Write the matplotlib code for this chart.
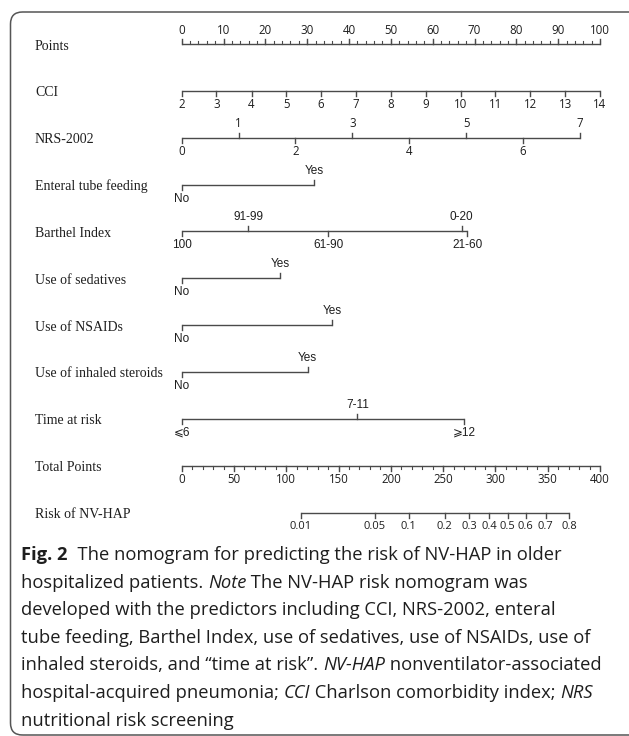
import matplotlib
matplotlib.use('Agg')
import matplotlib.pyplot as plt
from matplotlib.patches import FancyBboxPatch
from matplotlib.transforms import IdentityTransform

# ---- data (positions in "points", 0-100) ----
row_names = ["Points", "CCI", "NRS-2002", "Enteral tube feeding", "Barthel Index",
             "Use of sedatives", "Use of NSAIDs", "Use of inhaled steroids",
             "Time at risk", "Total Points", "Risk of NV-HAP"]

points_labels = [0, 10, 20, 30, 40, 50, 60, 70, 80, 90, 100]
points_minor = list(range(0, 101, 2))

cci_labels = ["2", "3", "4", "5", "6", "7", "8", "9", "10", "11", "12", "13", "14"]
cci_points = [0, 8.3, 16.7, 25, 33.3, 41.7, 50, 58.3, 66.7, 75, 83.3, 91.7, 100]

nrs_labels = ["0", "1", "2", "3", "4", "5", "6", "7"]
nrs_points = [0, 13.6, 27.2, 40.8, 54.4, 68.0, 81.6, 95.2]
nrs_side = ["down", "up", "down", "up", "down", "up", "down", "up"]

yes_no = ["No", "Yes"]
enteral_points = [0, 31.6]
sedatives_points = [0, 23.5]
nsaids_points = [0, 35.9]
steroids_points = [0, 30.1]

barthel_labels = ["100", "91-99", "61-90", "0-20", "21-60"]
barthel_points = [0, 15.9, 35.0, 66.9, 68.3]
barthel_side = ["down", "up", "down", "up", "down"]

time_labels = ["\u2a7d6", "7-11", "\u2a7e12"]
time_points = [0, 42.0, 67.6]
time_side = ["down", "up", "down"]

total_labels = [0, 50, 100, 150, 200, 250, 300, 350, 400]
total_minor = list(range(0, 401, 10))

risk_labels = ["0.01", "0.05", "0.1", "0.2", "0.3", "0.4", "0.5", "0.6", "0.7", "0.8"]
risk_total = [114, 184.8, 217, 251.5, 274.7, 293.8, 311.7, 328.9, 348, 370.6]

# ---- layout ----
W, H, DPI = 629, 736, 100
X0_PX, X100_PX = 181.7, 600.0      # pixel position of 0 and 100 points
ROW0_PX, ROW_PX = 44.0, 46.85      # first axis line, row spacing
PXX = 100 / (X100_PX - X0_PX)      # data units per pixel (x)
PXY = 1 / ROW_PX                   # data units per pixel (y)

LINE_C = '#4a4a4a'
TXT_C = '#1e1e1e'
SANS = ['Liberation Sans', 'DejaVu Sans']
NUMF = ['Open Sans', 'DejaVu Sans']

fig = plt.figure(figsize=(W / DPI, H / DPI), dpi=DPI)
ax = fig.add_axes([0, 0, 1, 1])
ax.set_xlim(-X0_PX * PXX, (W - X0_PX) * PXX)
ax.set_ylim((H - ROW0_PX) * PXY, -ROW0_PX * PXY)
ax.axis('off')


def draw_scale(row, xs, labels, sides, font=SANS, size=8.5, minor=None):
    ax.plot([min(xs), max(xs)], [row, row], color=LINE_C, lw=1.0, solid_capstyle='butt')
    if minor is not None:
        for m in minor:
            ax.plot([m, m], [row, row + (3 * PXY if sides[0] == 'down' else -3 * PXY)],
                    color=LINE_C, lw=0.8)
    for x, lab, side in zip(xs, labels, sides):
        sgn = 1 if side == 'down' else -1
        ax.plot([x, x], [row, row + sgn * 5 * PXY], color=LINE_C, lw=1.0)
        ax.text(x, row + sgn * 14 * PXY, lab, ha='center', va='center',
                fontsize=size, family=font, color=TXT_C)


# row titles
for i, name in enumerate(row_names):
    ax.text((35 - X0_PX) * PXX, i + 2 * PXY, name, ha='left', va='center',
            fontsize=10, family=['Liberation Serif'], color=TXT_C)

draw_scale(0, points_labels, [str(v) for v in points_labels], ['up'] * 11,
           font=NUMF, size=8.3, minor=points_minor)
draw_scale(1, cci_points, cci_labels, ['down'] * 13, font=NUMF, size=8.3)
draw_scale(2, nrs_points, nrs_labels, nrs_side, font=NUMF, size=8.3)
draw_scale(3, enteral_points, yes_no, ['down', 'up'])
draw_scale(4, barthel_points, barthel_labels, barthel_side)
draw_scale(5, sedatives_points, yes_no, ['down', 'up'])
draw_scale(6, nsaids_points, yes_no, ['down', 'up'])
draw_scale(7, steroids_points, yes_no, ['down', 'up'])
draw_scale(8, time_points, time_labels, time_side)
draw_scale(9, [v / 4 for v in total_labels], [str(v) for v in total_labels],
           ['down'] * 9, font=NUMF, size=8.3, minor=[v / 4 for v in total_minor])
draw_scale(10, [v / 4 for v in risk_total], risk_labels, ['down'] * 10,
           font=NUMF, size=8.0)

# ---- caption ----
caption = [
    [("Fig. 2", 'bold'), ("  The nomogram for predicting the risk of NV-HAP in older", 'normal')],
    [("hospitalized patients. ", 'normal'), ("Note", 'italic'),
     (" The NV-HAP risk nomogram was", 'normal')],
    [("developed with the predictors including CCI, NRS-2002, enteral", 'normal')],
    [("tube feeding, Barthel Index, use of sedatives, use of NSAIDs, use of", 'normal')],
    [("inhaled steroids, and \u201ctime at risk\u201d. ", 'normal'), ("NV-HAP", 'italic'),
     (" nonventilator-associated", 'normal')],
    [("hospital-acquired pneumonia; ", 'normal'), ("CCI", 'italic'),
     (" Charlson comorbidity index; ", 'normal'), ("NRS", 'italic')],
    [("nutritional risk screening", 'normal')],
]
CAP_X, CAP_Y0, CAP_DY = 21, 555, 27.6
CAP_SIZE = 13.2
renderer = fig.canvas.get_renderer()
for li, runs in enumerate(caption):
    x = CAP_X
    y = H - (CAP_Y0 + li * CAP_DY)
    for txt, style in runs:
        t = fig.text(x / W, y / H, txt, ha='left', va='center', fontsize=CAP_SIZE,
                     family=['Open Sans', 'DejaVu Sans'], color=TXT_C,
                     fontweight='bold' if style == 'bold' else 'normal',
                     fontstyle='italic' if style == 'italic' else 'normal')
        x += t.get_window_extent(renderer).width

# ---- frame (right side runs off the picture) ----
frame = FancyBboxPatch((10.5, 1.0), 660, 723, boxstyle='round,pad=0,rounding_size=12',
                       transform=IdentityTransform(), fill=False,
                       edgecolor='#555555', lw=1.1)
fig.patches.append(frame)

fig.savefig('out.png', dpi=DPI)
